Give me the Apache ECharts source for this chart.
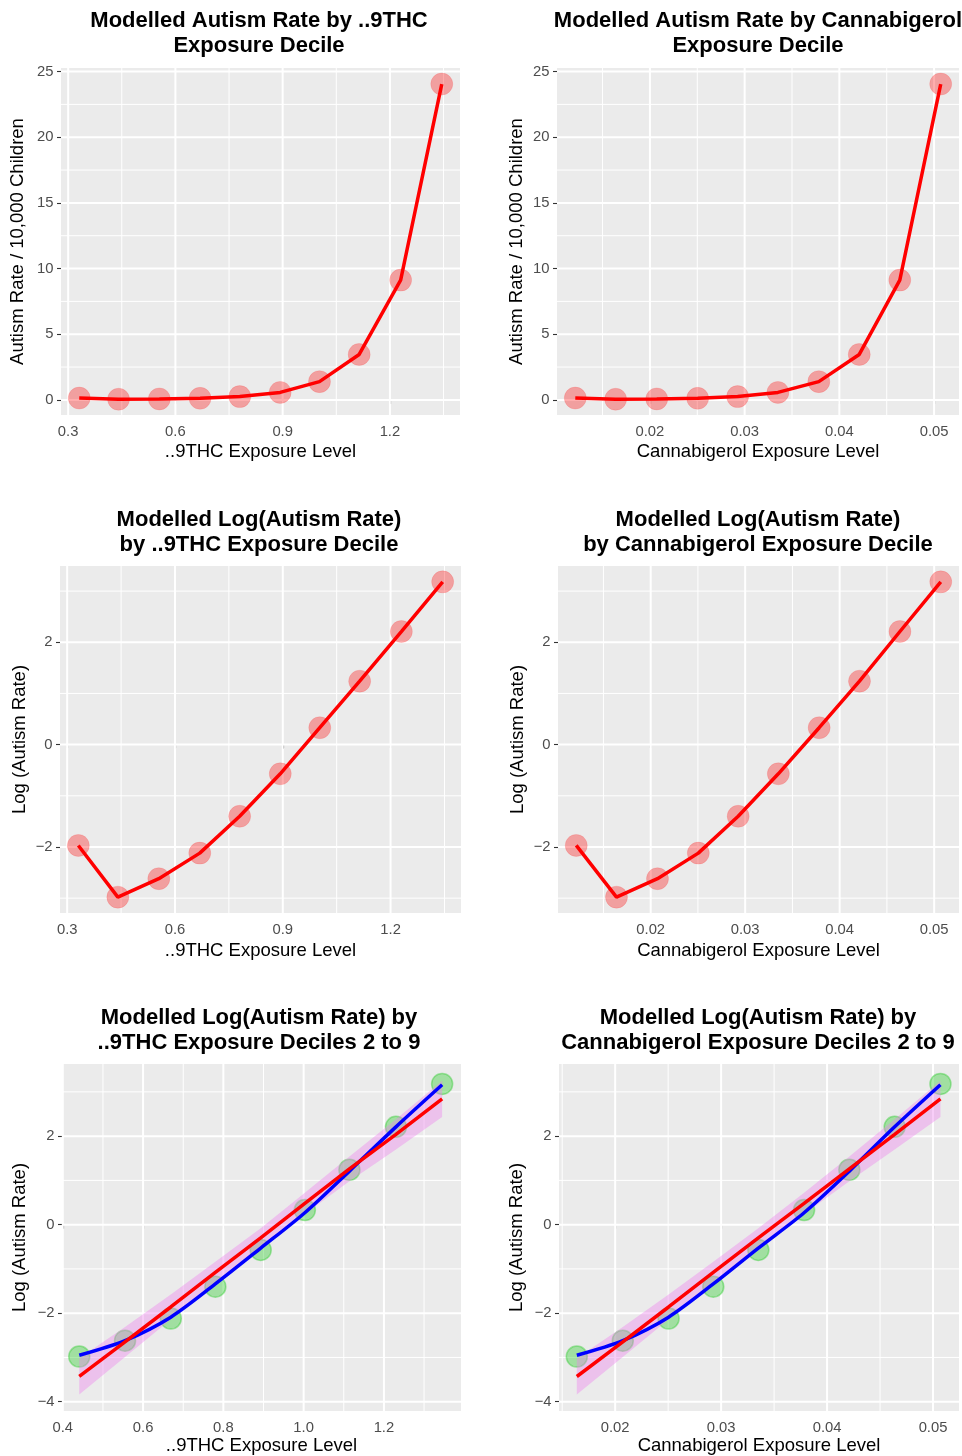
<!DOCTYPE html>
<html>
<head>
<meta charset="utf-8">
<script src="https://cdn.jsdelivr.net/npm/echarts@6/dist/echarts.min.js"></script>
<style>
html,body{margin:0;padding:0;background:#ffffff;}
#c{width:962px;height:1456px;}
</style>
</head>
<body>
<div id="c"></div>
<script>
// ---------------- data ----------------
const thcLevel = [0.331, 0.441, 0.555, 0.669, 0.780, 0.893, 1.003, 1.114, 1.230, 1.345];
const cbgLevel = [0.01212, 0.01638, 0.02072, 0.02504, 0.02926, 0.03351, 0.03783, 0.04210, 0.04638, 0.05070];
const autismRate = [0.14, 0.051, 0.073, 0.12, 0.25, 0.57, 1.39, 3.46, 9.12, 24.05];
const logAutismRate = [-1.97, -2.98, -2.62, -2.12, -1.40, -0.57, 0.33, 1.24, 2.21, 3.18];
// deciles 2..10 fits
const linearFit = [-3.43, -2.65, -1.86, -1.08, -0.30, 0.48, 1.26, 2.04, 2.84];
const linearFitLower = [-3.84, -2.99, -2.14, -1.32, -0.52, 0.24, 0.98, 1.70, 2.43];
const linearFitUpper = [-3.02, -2.31, -1.58, -0.84, -0.08, 0.72, 1.54, 2.38, 3.25];
const loessFit = [-2.95, -2.62, -2.09, -1.34, -0.53, 0.27, 1.21, 2.21, 3.16];

// tick labels
const thcTicks = [0.3, 0.6, 0.9, 1.2];
const thcMinor = [0.45, 0.75, 1.05, 1.35];
const thcTicks2 = [0.4, 0.6, 0.8, 1.0, 1.2];
const thcMinor2 = [0.5, 0.7, 0.9, 1.1, 1.3];
const cbgTicks = [0.02, 0.03, 0.04, 0.05];
const cbgMinor = [0.015, 0.025, 0.035, 0.045];
const rateTicks = [0, 5, 10, 15, 20, 25];
const rateMinor = [2.5, 7.5, 12.5, 17.5, 22.5];
const logTicks = [-2, 0, 2];
const logMinor = [-3, -1, 1, 3];
const logTicks2 = [-4, -2, 0, 2];
const logMinor2 = [-3, -1, 1, 3];

const titles = [
  'Modelled Autism Rate by ..9THC\nExposure Decile',
  'Modelled Autism Rate by Cannabigerol\nExposure Decile',
  'Modelled Log(Autism Rate)\nby ..9THC Exposure Decile',
  'Modelled Log(Autism Rate)\nby Cannabigerol Exposure Decile',
  'Modelled Log(Autism Rate) by\n..9THC Exposure Deciles 2 to 9',
  'Modelled Log(Autism Rate) by\nCannabigerol Exposure Deciles 2 to 9'
];
const xNames = ['..9THC Exposure Level', 'Cannabigerol Exposure Level'];
const yNames = ['Autism Rate / 10,000 Children', 'Log (Autism Rate)'];

// ---------------- layout / style ----------------
const FONT = '"Liberation Sans", Arial, Helvetica, sans-serif';
const grids = [
  {left: 61, top: 68, width: 399, height: 347},
  {left: 557, top: 68, width: 402, height: 347},
  {left: 60, top: 566, width: 401, height: 347},
  {left: 558, top: 566, width: 401, height: 347},
  {left: 62, top: 1064, width: 399, height: 347},
  {left: 559, top: 1064, width: 400, height: 347}
];
const titlePos = [
  {x: 259, top: 8.5}, {x: 758, top: 8.5},
  {x: 259, top: 507}, {x: 758, top: 507},
  {x: 259, top: 1005}, {x: 758, top: 1005}
];
const panels = [
  {xs: thcLevel, ys: autismRate, xr: [0.280, 1.396], yr: [-1.15, 25.27], xt: thcTicks, xm: thcMinor, yt: rateTicks, ym: rateMinor, xd: 1, xn: 0, yn: 0, ygap: 33.5, xgap: 27.5, fit: false},
  {xs: cbgLevel, ys: autismRate, xr: [0.01019, 0.05263], yr: [-1.15, 25.27], xt: cbgTicks, xm: cbgMinor, yt: rateTicks, ym: rateMinor, xd: 2, xn: 1, yn: 0, ygap: 31, xgap: 27.5, fit: false},
  {xs: thcLevel, ys: logAutismRate, xr: [0.280, 1.396], yr: [-3.29, 3.49], xt: thcTicks, xm: thcMinor, yt: logTicks, ym: logMinor, xd: 1, xn: 0, yn: 1, ygap: 31, xgap: 28, fit: false},
  {xs: cbgLevel, ys: logAutismRate, xr: [0.01019, 0.05263], yr: [-3.29, 3.49], xt: cbgTicks, xm: cbgMinor, yt: logTicks, ym: logMinor, xd: 2, xn: 1, yn: 1, ygap: 31, xgap: 28, fit: false},
  {xs: thcLevel.slice(1), ys: logAutismRate.slice(1), xr: [0.398, 1.392], yr: [-4.21, 3.63], xt: thcTicks2, xm: thcMinor2, yt: logTicks2, ym: logMinor2, xd: 1, xn: 0, yn: 1, ygap: 33, xgap: 25, fit: true},
  {xs: cbgLevel.slice(1), ys: logAutismRate.slice(1), xr: [0.01470, 0.05245], yr: [-4.21, 3.63], xt: cbgTicks, xm: cbgMinor, yt: logTicks2, ym: logMinor2, xd: 2, xn: 1, yn: 1, ygap: 33, xgap: 25, fit: true}
];

const minusFmt = v => (v < 0 ? '\u2212' : '') + Math.abs(v);

const option = {
  animation: false,
  backgroundColor: '#ffffff',
  textStyle: {fontFamily: FONT},
  title: [], grid: [], xAxis: [], yAxis: [], series: []
};

panels.forEach((p, i) => {
  option.title.push({
    text: titles[i], left: titlePos[i].x, top: titlePos[i].top, textAlign: 'center', padding: 0,
    textStyle: {fontFamily: FONT, fontSize: 22, fontWeight: 'bold', color: '#000000', lineHeight: 25}
  });
  option.grid.push(Object.assign({show: true, backgroundColor: '#EBEBEB', borderWidth: 0, containLabel: false}, grids[i]));
  const inR = (arr, r) => arr.filter(v => v >= r[0] && v <= r[1]);
  option.xAxis.push({
    type: 'value', gridIndex: i, min: p.xr[0], max: p.xr[1],
    name: xNames[p.xn], nameLocation: 'middle', nameGap: p.xgap,
    nameTextStyle: {fontFamily: FONT, fontSize: 18.5, color: '#000000'},
    axisLine: {show: false},
    axisTick: {show: true, length: 4, customValues: inR(p.xt, p.xr), lineStyle: {color: '#333333', width: 1.1}},
    axisLabel: {show: true, customValues: inR(p.xt, p.xr), margin: 9, fontFamily: FONT, fontSize: 14.8, color: '#4D4D4D',
      formatter: v => v.toFixed(p.xd)},
    splitLine: {show: false}, minorSplitLine: {show: false}
  });
  option.yAxis.push({
    type: 'value', gridIndex: i, min: p.yr[0], max: p.yr[1],
    name: yNames[p.yn], nameLocation: 'middle', nameGap: p.ygap,
    nameTextStyle: {fontFamily: FONT, fontSize: 18.5, color: '#000000'},
    axisLine: {show: false},
    axisTick: {show: true, length: 4, customValues: inR(p.yt, p.yr), lineStyle: {color: '#333333', width: 1.1}},
    axisLabel: {show: true, customValues: inR(p.yt, p.yr), margin: 7.5, fontFamily: FONT, fontSize: 14.8, color: '#4D4D4D',
      formatter: minusFmt},
    splitLine: {show: false}, minorSplitLine: {show: false}
  });

  // gridlines: [x, y, orientation (0 vertical / 1 horizontal), major]
  const gl = [];
  inR(p.xm, p.xr).forEach(v => gl.push([v, p.yr[0], 0, 0]));
  inR(p.ym, p.yr).forEach(v => gl.push([p.xr[0], v, 1, 0]));
  inR(p.xt, p.xr).forEach(v => gl.push([v, p.yr[0], 0, 1]));
  inR(p.yt, p.yr).forEach(v => gl.push([p.xr[0], v, 1, 1]));
  option.series.push({
    type: 'custom', xAxisIndex: i, yAxisIndex: i, silent: true, z: 1,
    data: gl, encode: {x: 0, y: 1},
    renderItem: (params, api) => {
      const cs = params.coordSys;
      const pt = api.coord([api.value(0), api.value(1)]);
      const major = api.value(3) === 1;
      const style = {stroke: '#FFFFFF', lineWidth: major ? 2 : 1};
      if (api.value(2) === 0) {
        return {type: 'line', shape: {x1: pt[0], y1: cs.y, x2: pt[0], y2: cs.y + cs.height}, style};
      }
      return {type: 'line', shape: {x1: cs.x, y1: pt[1], x2: cs.x + cs.width, y2: pt[1]}, style};
    }
  });

  const pts = p.xs.map((x, k) => [x, p.ys[k]]);
  if (!p.fit) {
    option.series.push({
      type: 'scatter', xAxisIndex: i, yAxisIndex: i, z: 3, silent: true,
      data: pts, symbol: 'circle', symbolSize: 22,
      itemStyle: {color: 'rgba(255,0,0,0.4)', borderColor: 'rgba(255,0,0,0.15)', borderWidth: 1}
    });
    option.series.push({
      type: 'line', xAxisIndex: i, yAxisIndex: i, z: 4, silent: true,
      data: pts, showSymbol: false, symbol: 'none',
      lineStyle: {color: '#FF0000', width: 3.5}
    });
  } else {
    option.series.push({
      type: 'scatter', xAxisIndex: i, yAxisIndex: i, z: 3, silent: true,
      data: pts, symbol: 'circle', symbolSize: 21,
      itemStyle: {color: 'rgba(50,205,50,0.5)', borderColor: 'rgba(50,205,50,0.55)', borderWidth: 1.5}
    });
    const rib = p.xs.map((x, k) => [x, linearFitLower[k], linearFitUpper[k]]);
    option.series.push({
      type: 'custom', xAxisIndex: i, yAxisIndex: i, z: 4, silent: true,
      data: rib, encode: {x: 0, y: [1, 2]},
      renderItem: (params, api) => {
        if (params.dataIndex !== 0) return {type: 'group', children: []};
        const poly = [];
        rib.forEach(r => poly.push(api.coord([r[0], r[2]])));
        for (let k = rib.length - 1; k >= 0; k--) poly.push(api.coord([rib[k][0], rib[k][1]]));
        return {type: 'polygon', shape: {points: poly}, style: {fill: 'rgba(238,130,238,0.4)'}};
      }
    });
    option.series.push({
      type: 'line', xAxisIndex: i, yAxisIndex: i, z: 5, silent: true,
      data: p.xs.map((x, k) => [x, loessFit[k]]), showSymbol: false, symbol: 'none', smooth: 0.3,
      lineStyle: {color: '#0000FF', width: 3.5}
    });
    option.series.push({
      type: 'line', xAxisIndex: i, yAxisIndex: i, z: 6, silent: true,
      data: p.xs.map((x, k) => [x, linearFit[k]]), showSymbol: false, symbol: 'none',
      lineStyle: {color: '#FF0000', width: 3.5}
    });
  }
});

const chart = echarts.init(document.getElementById('c'), null, {renderer: 'canvas', width: 962, height: 1456});
chart.setOption(option);
</script>
</body>
</html>
